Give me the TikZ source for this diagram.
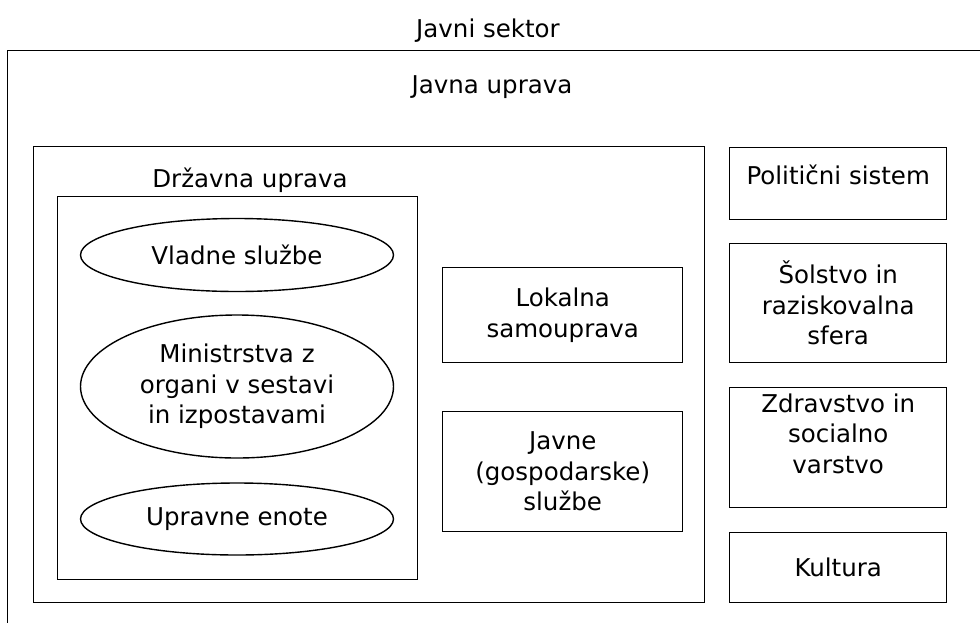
\documentclass[tikz,border=0pt]{standalone}
\usepackage{fontspec}
\setmainfont{DejaVu Sans}
\usetikzlibrary{positioning,shapes.geometric}

\begin{document}
\begin{tikzpicture}[x=1pt, y=-1pt, line width=1.4pt,
      txt/.style={font=\fontsize{24.5}{30.5}\selectfont, align=center, inner sep=0pt}]
      % A box style and an oval style
      \tikzstyle{boxnode} = [draw, rectangle, txt, anchor=north west]
      \tikzstyle{ovalnode} = [draw, ellipse, txt, minimum width=313pt]

      \useasboundingbox (0,0) rectangle (980,622);
      \clip (0,0) rectangle (980,622);

      % Outer frame, cut off at the right and bottom
      \node (sektor) [txt, anchor=base] at (488,37) {Javni sektor};
      \node (sektorbox) [boxnode, minimum width=1000pt, minimum height=640pt] at (7,50) {};
      \node (uprava) [txt, anchor=base] at (492,93) {Javna uprava};

      % Javna uprava
      \node (jubox) [boxnode, minimum width=671pt, minimum height=456pt] at (33,146) {};
      \node (drzava) [txt, anchor=base] at (250,187) {Državna uprava};
      \node (dubox) [boxnode, minimum width=360pt, minimum height=383pt] at (57,196) {};

      % Ovals inside Drzavna uprava
      \node (vlada) [ovalnode, minimum height=73pt] at (237,255) {Vladne službe};
      \node (ministrstva) [ovalnode, minimum height=143pt] at (237,386.5) {Ministrstva z\\organi v sestavi\\in izpostavami};
      \node (enote) [ovalnode, minimum height=72pt] at (237,519) {Upravne enote};

      % Middle column
      \node (lokalna) [boxnode, minimum width=240pt, minimum height=95pt] at (442,267) {Lokalna\\samouprava};
      \node (javne) [boxnode, minimum width=240pt, minimum height=120pt] at (442,411) {Javne\\(gospodarske)\\službe};

      % Right column
      \node (politika) [boxnode, minimum width=217pt, minimum height=72pt, text height=16pt, text depth=14pt] at (729,147) {Politični sistem};
      \node (solstvo) [boxnode, minimum width=217pt, minimum height=119pt] at (729,243) {Šolstvo in\\raziskovalna\\sfera};
      \node (zdravje) [boxnode, minimum width=217pt, minimum height=120pt, text depth=29pt] at (729,387) {Zdravstvo in\\socialno\\varstvo};
      \node (kultura) [boxnode, minimum width=217pt, minimum height=70pt] at (729,532) {Kultura};
\end{tikzpicture}
\end{document}
